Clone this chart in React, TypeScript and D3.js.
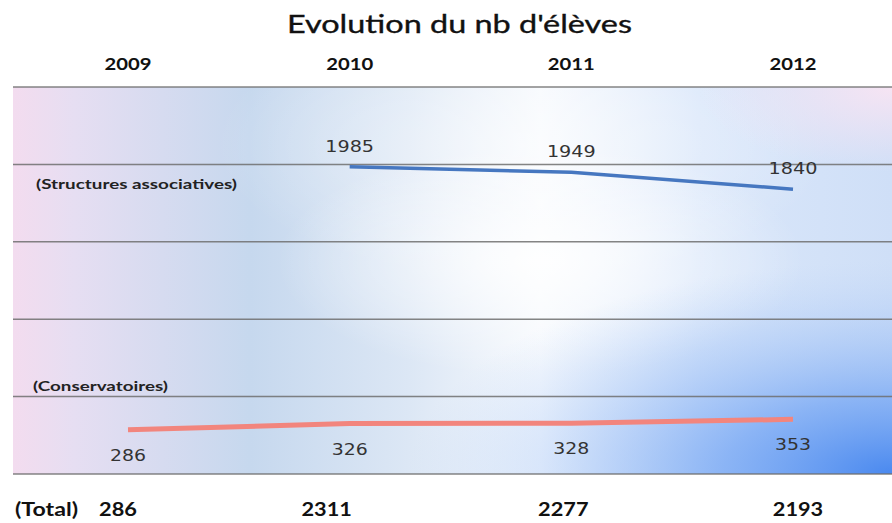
import React from "react";
import * as d3 from "d3";

const years = ["2009", "2010", "2011", "2012"];
const structures: (number | null)[] = [null, 1985, 1949, 1840];
const conservatoires: number[] = [286, 326, 328, 353];
const totals: number[] = [286, 2311, 2277, 2193];
const gridValues = [0, 500, 1000, 1500, 2000, 2500];
const title = "Evolution du nb d'élèves";
const seriesNames = ["(Structures associatives)", "(Conservatoires)"];
const totalLabel = "(Total)";

const W = 892;
const H = 523;
// layout: horizontal shift of the totals row relative to each year column
const totalShift = [-10, -23, -8, 5];

export default function App() {
  const x = d3.scalePoint<string>().domain(years).range([128, 793]);
  const y = d3.scaleLinear().domain([0, 2500]).range([474, 87]);

  const sData = years
    .map((yr, i) => ({ yr, v: structures[i] }))
    .filter((d) => d.v !== null) as { yr: string; v: number }[];
  const cData = years.map((yr, i) => ({ yr, v: conservatoires[i] }));

  const line = d3
    .line<{ yr: string; v: number }>()
    .x((d) => x(d.yr) as number)
    .y((d) => y(d.v));

  const labelFont = "'DejaVu Sans', Verdana, sans-serif";
  const calibri = "Lato, 'Open Sans', sans-serif";
  const digitsW = (v: number, per: number) => String(v).length * per;

  const top = y(2500);
  const h = y(0) - y(2500);

  return (
    <svg
      width={W}
      height={H}
      style={{ position: "absolute", left: 0, top: 0, background: "#fff" }}
    >
      <defs>
        <linearGradient id="bgH" x1="0" y1="0" x2="1" y2="0">
          <stop offset="0" stopColor="#f3dcef" />
          <stop offset="0.07" stopColor="#e6def2" />
          <stop offset="0.27" stopColor="#c6d8ee" />
          <stop offset="0.45" stopColor="#dce7f5" />
          <stop offset="0.6" stopColor="#f6f9fd" />
          <stop offset="0.78" stopColor="#dae7fa" />
          <stop offset="1" stopColor="#cfdff7" />
        </linearGradient>
        <radialGradient id="blueBR" cx="1" cy="1" r="0.55" fx="1" fy="1">
          <stop offset="0" stopColor="#4a89ef" stopOpacity="1" />
          <stop offset="0.35" stopColor="#78a8f4" stopOpacity="0.8" />
          <stop offset="1" stopColor="#b9d2f8" stopOpacity="0" />
        </radialGradient>
        <radialGradient id="pinkTR" cx="1" cy="0" r="0.22">
          <stop offset="0" stopColor="#f6e4f3" stopOpacity="1" />
          <stop offset="1" stopColor="#f6e4f3" stopOpacity="0" />
        </radialGradient>
        <radialGradient id="whiteMid" cx="0.6" cy="0.45" r="0.3">
          <stop offset="0" stopColor="#ffffff" stopOpacity="0.9" />
          <stop offset="1" stopColor="#ffffff" stopOpacity="0" />
        </radialGradient>
        <radialGradient id="whiteTop" cx="0.58" cy="0.15" r="0.35">
          <stop offset="0" stopColor="#ffffff" stopOpacity="0.55" />
          <stop offset="1" stopColor="#ffffff" stopOpacity="0" />
        </radialGradient>
      </defs>

      {/* plot background */}
      <g>
        {["bgH", "whiteTop", "whiteMid", "blueBR", "pinkTR"].map((id) => (
          <rect key={id} x={13} y={top} width={W - 13} height={h} fill={`url(#${id})`} />
        ))}
      </g>

      {/* gridlines */}
      {gridValues.map((g) => (
        <line
          key={g}
          x1={13}
          x2={W}
          y1={y(g)}
          y2={y(g)}
          stroke="#6e6e6e"
          strokeOpacity={0.85}
          strokeWidth={1.5}
        />
      ))}

      {/* title */}
      <text
        x={287}
        y={33}
        textLength={345}
        lengthAdjust="spacingAndGlyphs"
        fontFamily={calibri}
        fontSize={25}
        fill="#111"
        stroke="#111"
        strokeWidth={0.35}
      >
        {title}
      </text>

      {/* year labels */}
      {years.map((yr) => (
        <text
          key={yr}
          x={(x(yr) as number) - 23.5}
          y={70}
          textLength={47}
          lengthAdjust="spacingAndGlyphs"
          fontFamily={calibri}
          fontWeight="bold"
          fontSize={17}
          fill="#111"
        >
          {yr}
        </text>
      ))}

      {/* category labels */}
      <text
        x={36}
        y={189}
        textLength={201}
        lengthAdjust="spacingAndGlyphs"
        fontFamily={calibri}
        fontWeight="bold"
        fontSize={13}
        fill="#222"
      >
        {seriesNames[0]}
      </text>
      <text
        x={33}
        y={391}
        textLength={135}
        lengthAdjust="spacingAndGlyphs"
        fontFamily={calibri}
        fontWeight="bold"
        fontSize={13}
        fill="#222"
      >
        {seriesNames[1]}
      </text>

      {/* lines */}
      <path d={line(sData) || ""} fill="none" stroke="#4677c0" strokeWidth={3.5} />
      <path d={line(cData) || ""} fill="none" stroke="#f2857d" strokeWidth={5} />

      {/* data labels */}
      {sData.map((d) => (
        <text
          key={"s" + d.yr}
          x={(x(d.yr) as number) - digitsW(d.v, 12.2) / 2}
          y={y(d.v) - 15}
          textLength={digitsW(d.v, 12.2)}
          lengthAdjust="spacingAndGlyphs"
          fontFamily={labelFont}
          fontSize={16}
          fill="#333"
        >
          {d.v}
        </text>
      ))}
      {cData.map((d) => (
        <text
          key={"c" + d.yr}
          x={(x(d.yr) as number) - digitsW(d.v, 12) / 2}
          y={y(d.v) + 31}
          textLength={digitsW(d.v, 12)}
          lengthAdjust="spacingAndGlyphs"
          fontFamily={labelFont}
          fontSize={16}
          fill="#333"
        >
          {d.v}
        </text>
      ))}

      {/* totals */}
      <text
        x={15}
        y={516}
        textLength={63}
        lengthAdjust="spacingAndGlyphs"
        fontFamily={calibri}
        fontWeight="bold"
        fontSize={19}
        fill="#111"
      >
        {totalLabel}
      </text>
      {years.map((yr, i) => {
        const w = digitsW(totals[i], 12.6);
        return (
          <text
            key={"t" + yr}
            x={(x(yr) as number) + totalShift[i] - w / 2}
            y={516}
            textLength={w}
            lengthAdjust="spacingAndGlyphs"
            fontFamily={calibri}
            fontWeight="bold"
            fontSize={19}
            fill="#111"
          >
            {totals[i]}
          </text>
        );
      })}
    </svg>
  );
}
